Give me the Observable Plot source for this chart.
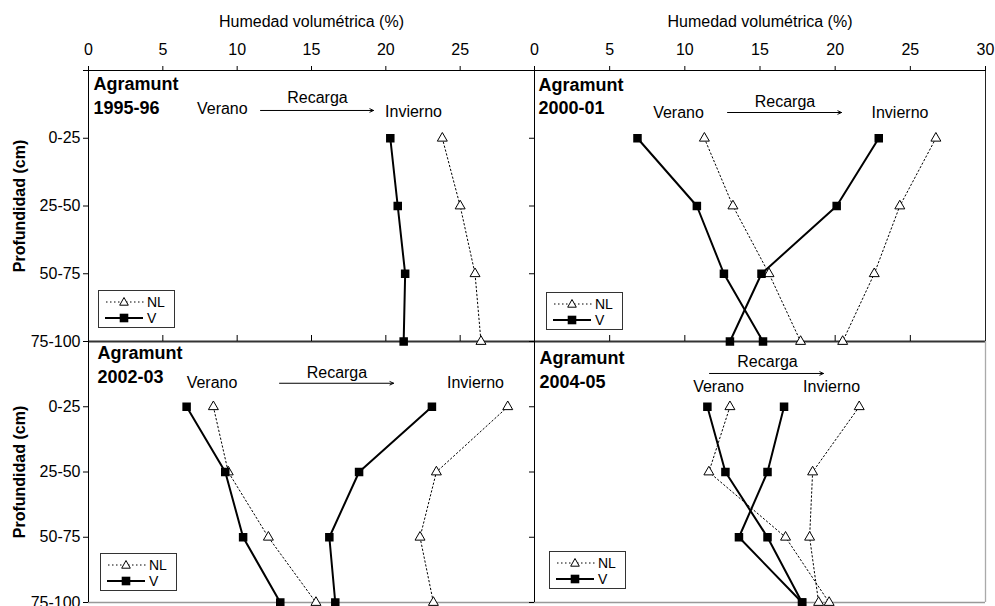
<!DOCTYPE html>
<html>
<head>
<meta charset="utf-8">
<script src="https://cdn.jsdelivr.net/npm/d3@7"></script>
<script src="https://cdn.jsdelivr.net/npm/@observablehq/plot@0.6"></script>
<style>
  html, body { margin: 0; padding: 0; background: #fff; }
  #chart { position: relative; width: 995px; height: 606px; font-family: "Liberation Sans", Arial, sans-serif; }
  #chart > .p { position: absolute; }
  .legend { position: absolute; }
</style>
</head>
<body>
<div id="chart"></div>
<script>
// ---- Data ----
const depths = ["0-25", "25-50", "50-75", "75-100"];
const xTicksLeft = [0, 5, 10, 15, 20, 25];
const xTicksRight = [0, 5, 10, 15, 20, 25, 30];
const xLabel = "Humedad volumétrica (%)";
const yLabel = "Profundidad (cm)";
const legendLabels = ["NL", "V"];

// 1995-96
const nl9596 = [23.8, 25.0, 26.0, 26.4];
const v9596 = [20.3, 20.8, 21.3, 21.2];
// 2000-01
const nlVer0001 = [11.3, 13.2, 15.6, 17.7];
const nlInv0001 = [26.7, 24.3, 22.6, 20.5];
const vVer0001 = [6.85, 10.8, 12.6, 15.2];
const vInv0001 = [22.9, 20.1, 15.1, 13.0];
// 2002-03
const nlVer0203 = [8.4, 9.4, 12.1, 15.3];
const nlInv0203 = [28.2, 23.4, 22.3, 23.2];
const vVer0203 = [6.6, 9.2, 10.4, 12.9];
const vInv0203 = [23.1, 18.2, 16.2, 16.6];
// 2004-05
const nlVer0405 = [13.0, 11.6, 16.7, 19.6];
const nlInv0405 = [21.6, 18.5, 18.3, 18.9];
const vVer0405 = [11.5, 12.7, 15.5, 17.8];
const vInv0405 = [16.6, 15.5, 13.6, 17.8];

const FONT = "Liberation Sans, Arial, sans-serif";

const panels = [
  { title: "Agramunt", year: "1995-96", top: true, left: true,
    series: [{tipo: "NL", values: nl9596}, {tipo: "V", values: v9596}],
    box: {left: 0, top: 0, width: 540, height: 345, mt: 70, mb: 4, ml: 88, mr: 6},
    ann: {title: [0.34, 0.21, 0.56], verano: [9.0, 0.56], recarga: [15.4, 0.40], arrow: [11.57, 19.17, 0.59], invierno: [21.86, 0.605]},
    legend: [98, 290] },
  { title: "Agramunt", year: "2000-01", top: true, left: false,
    series: [{tipo: "NL", values: nlVer0001}, {tipo: "NL", values: nlInv0001}, {tipo: "V", values: vVer0001}, {tipo: "V", values: vInv0001}],
    box: {left: 490, top: 0, width: 505, height: 345, mt: 70, mb: 4, ml: 44, mr: 10},
    ann: {title: [0.27, 0.22, 0.56], verano: [9.58, 0.62], recarga: [16.66, 0.46], arrow: [12.84, 20.42, 0.62], invierno: [24.31, 0.62]},
    legend: [546, 292] },
  { title: "Agramunt", year: "2002-03", top: false, left: true,
    series: [{tipo: "NL", values: nlVer0203}, {tipo: "NL", values: nlInv0203}, {tipo: "V", values: vVer0203}, {tipo: "V", values: vInv0203}],
    box: {left: 0, top: 330, width: 540, height: 276, mt: 11, mb: 4, ml: 88, mr: 6},
    ann: {title: [0.6, 0.18, 0.54], verano: [8.31, 0.63], recarga: [16.71, 0.475], arrow: [12.85, 20.52, 0.64], invierno: [26.03, 0.64]},
    legend: [100, 553] },
  { title: "Agramunt", year: "2004-05", top: false, left: false,
    series: [{tipo: "NL", values: nlVer0405}, {tipo: "NL", values: nlInv0405}, {tipo: "V", values: vVer0405}, {tipo: "V", values: vInv0405}],
    box: {left: 490, top: 330, width: 505, height: 276, mt: 11, mb: 4, ml: 44, mr: 10},
    ann: {title: [0.33, 0.26, 0.63], verano: [12.24, 0.69], recarga: [15.5, 0.31], arrow: [11.64, 19.22, 0.49], invierno: [19.76, 0.69]},
    legend: [549, 551] }
];

function makePanel(cfg) {
  const rows = [];
  cfg.series.forEach((s, si) => s.values.forEach((v, i) => rows.push({s: si, tipo: s.tipo, d: i + 1, v})));
  const nl = rows.filter(r => r.tipo === "NL");
  const vv = rows.filter(r => r.tipo === "V");
  const xt = cfg.left ? xTicksLeft : xTicksRight;
  const a = cfg.ann;
  const marks = [];

  // frame lines
  marks.push(Plot.ruleY([4], {stroke: cfg.top ? "#333" : "#999", strokeWidth: cfg.top ? 2 : 1.3}));
  if (cfg.top) marks.push(Plot.ruleY([0], {stroke: "#000", strokeWidth: 1}));
  if (!cfg.left) marks.push(Plot.ruleX([30], {stroke: cfg.top ? "#222" : "#aaa", strokeWidth: cfg.top ? 1 : 1.3}));
  marks.push(Plot.ruleX([0], {stroke: "#000", strokeWidth: 1}));

  // axes
  marks.push(Plot.axisY({ticks: [0, 1, 2, 3, 4], tickSize: 5, tickPadding: 3, fontSize: 16,
    tickFormat: d => cfg.left ? (depths[d - 1] ?? "") : "", label: null}));
  if (cfg.top) {
    marks.push(Plot.axisX({anchor: "top", ticks: xt, tickSize: 5, tickPadding: 11, fontSize: 16, label: null}));
    marks.push(Plot.axisX({anchor: "bottom", ticks: xt.filter(t => t > 0 && t < 30), tickSize: -6, tickFormat: () => "", label: null}));
    marks.push(Plot.text([xLabel], {text: d => d, frameAnchor: "top", dy: -55, fontSize: 16}));
  }
  if (cfg.left) {
    marks.push(Plot.text([yLabel], {text: d => d, frameAnchor: "left", textAnchor: "middle", rotate: -90, dx: -69, fontSize: 16, fontWeight: "bold"}));
  }

  // annotations
  marks.push(Plot.text([cfg.title], {text: d => d, x: a.title[0], y: a.title[1], textAnchor: "start", fontSize: 18, fontWeight: "bold"}));
  marks.push(Plot.text([cfg.year], {text: d => d, x: a.title[0], y: a.title[2], textAnchor: "start", fontSize: 18, fontWeight: "bold"}));
  marks.push(Plot.text(["Verano"], {text: d => d, x: a.verano[0], y: a.verano[1], fontSize: 16}));
  marks.push(Plot.text(["Recarga"], {text: d => d, x: a.recarga[0], y: a.recarga[1], fontSize: 16}));
  marks.push(Plot.text(["Invierno"], {text: d => d, x: a.invierno[0], y: a.invierno[1], fontSize: 16}));
  marks.push(Plot.arrow([a.arrow], {x1: d => d[0], x2: d => d[1], y1: d => d[2], y2: d => d[2],
    stroke: "#000", strokeWidth: 1, headLength: 6, headAngle: 50}));

  // data
  marks.push(Plot.line(nl, {x: "v", y: "d", z: "s", stroke: "#000", strokeWidth: 1, strokeDasharray: "1.5,2.5"}));
  marks.push(Plot.line(vv, {x: "v", y: "d", z: "s", stroke: "#000", strokeWidth: 2}));
  marks.push(Plot.dot(nl, {x: "v", y: "d", symbol: "triangle", r: 3.7, fill: "#fff", stroke: "#000", strokeWidth: 1}));
  marks.push(Plot.dot(vv, {x: "v", y: "d", symbol: "square", r: 4.8, fill: "#000", stroke: "none"}));

  const b = cfg.box;
  const el = Plot.plot({
    width: b.width, height: b.height,
    marginTop: b.mt, marginBottom: b.mb, marginLeft: b.ml, marginRight: b.mr,
    x: {domain: [0, 30], axis: cfg.top ? undefined : null},
    y: {domain: [0, 4], reverse: true},
    style: {fontFamily: FONT, fontSize: "16px", background: "transparent", overflow: "visible", color: "#000"},
    marks
  });
  el.classList.add("p");
  el.style.left = b.left + "px";
  el.style.top = b.top + "px";
  return el;
}

function legendEl(pos) {
  const d = document.createElement("div");
  d.className = "legend";
  d.style.left = pos[0] + "px";
  d.style.top = pos[1] + "px";
  d.innerHTML = `<svg width="77" height="38" style="display:block;font-family:${FONT};font-size:14px">
    <rect x="0.5" y="0.5" width="76" height="37" fill="#fff" stroke="#333" stroke-width="1"/>
    <line x1="8" x2="46" y1="12" y2="12" stroke="#000" stroke-width="1" stroke-dasharray="1.5,2.5"/>
    <path d="M26,7.5L30.3,15.2L21.7,15.2Z" fill="#fff" stroke="#000"/>
    <text x="49" y="12" dy="0.35em">${legendLabels[0]}</text>
    <line x1="7" x2="45" y1="28" y2="28" stroke="#000" stroke-width="2"/>
    <rect x="21.7" y="23.7" width="8.6" height="8.6" fill="#000"/>
    <text x="49" y="28" dy="0.35em">${legendLabels[1]}</text>
  </svg>`;
  return d;
}

const chart = document.getElementById("chart");
panels.forEach(p => chart.appendChild(makePanel(p)));
panels.forEach(p => chart.appendChild(legendEl(p.legend)));
</script>
</body>
</html>
